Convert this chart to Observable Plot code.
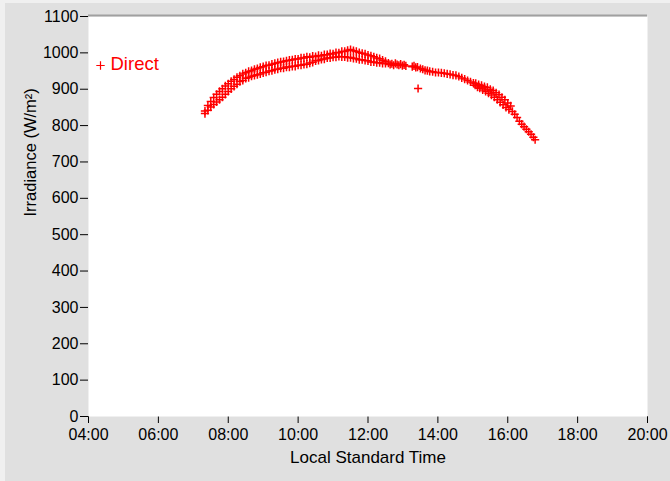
<!DOCTYPE html>
<html>
<head>
<meta charset="utf-8">
<script src="https://cdn.jsdelivr.net/npm/d3@7"></script>
<script src="https://cdn.jsdelivr.net/npm/@observablehq/plot@0.6"></script>
<style>
  html, body { margin: 0; padding: 0; background: #f0f0f0; }
  #chart svg { display: block; }
</style>
</head>
<body>
<div id="chart"></div>
<script>
// Direct irradiance readings, morning (first day)
const dayATimes = ["07:20","07:25","07:30","07:35","07:40","07:45","07:50","07:55","08:00","08:05","08:10","08:15","08:20","08:25","08:30","08:35","08:40","08:45","08:50","08:55","09:00","09:05","09:10","09:15","09:20","09:25","09:30","09:35","09:40","09:45","09:50","09:55","10:00","10:05","10:10","10:15","10:20","10:25","10:30","10:35","10:40","10:45","10:50","10:55","11:00","11:05","11:10","11:15","11:20","11:25","11:30","11:35","11:40","11:45","11:50","11:55","12:00","12:05","12:10","12:15","12:20","12:25","12:30"];
const dayAValues = [840,855,866,877,886,894,901,909,915,922,927,933,937,942,945,949,951,955,957,960,962,965,966,969,971,973,975,976,978,980,981,983,983,986,986,989,988,991,990,993,992,995,995,998,997,1001,1000,1004,1004,1007,1009,1006,1004,1001,999,997,994,992,989,986,984,980,977];

// Direct irradiance readings, morning (second day)
const dayBTimes = ["07:20","07:25","07:30","07:35","07:40","07:45","07:50","07:55","08:00","08:05","08:10","08:15","08:20","08:25","08:30","08:35","08:40","08:45","08:50","08:55","09:00","09:05","09:10","09:15","09:20","09:25","09:30","09:35","09:40","09:45","09:50","09:55","10:00","10:05","10:10","10:15","10:20","10:25","10:30","10:35","10:40","10:45","10:50","10:55","11:00","11:05","11:10","11:15","11:20","11:25","11:30","11:35","11:40","11:45","11:50","11:55","12:00","12:05","12:10","12:15","12:20","12:25","12:30"];
const dayBValues = [833,842,851,858,865,871,878,886,894,901,908,914,921,924,930,932,936,938,940,942,945,947,950,951,954,955,958,958,961,961,963,963,966,966,968,969,972,974,978,979,982,983,986,986,988,988,990,989,989,987,987,985,984,981,981,979,978,975,975,973,973,971,971];

// Afternoon readings
const pmTimes = ["12:35","12:38","12:41","12:44","12:47","12:50","12:53","12:56","12:59","13:02","13:05","13:16","13:19","13:22","13:25","13:26","13:30","13:34","13:38","13:42","13:46","13:51","13:56","14:01","14:06","14:11","14:16","14:21","14:26","14:31","14:36","14:41","14:46","14:51","14:56","15:01","15:05","15:10","15:15","15:20","15:25","15:30","15:35","15:40","15:45","15:50","15:55","16:00","16:05","15:04","15:08","15:12","15:17","15:22","15:27","15:32","15:37","15:42","15:47","15:52","15:57","16:02","16:08","16:12","16:16","16:20","16:24","16:28","16:32","16:36","16:40","16:44","16:47"];
const pmValues = [972,968,970,966,971,968,966,969,965,967,964,962,964,960,961,902,957,955,952,951,949,948,946,946,945,944,942,941,939,938,935,931,928,924,920,917,916,913,911,907,905,900,896,890,885,878,871,862,854,911,906,903,898,894,889,884,878,871,864,857,850,844,839,831,822,812,804,797,790,783,776,768,761];

const xTicks = [4, 6, 8, 10, 12, 14, 16, 18, 20];
const yTicks = [0, 100, 200, 300, 400, 500, 600, 700, 800, 900, 1000, 1100];
const seriesName = "Direct";

const toHours = s => { const [h, m] = s.split(":").map(Number); return h + m / 60; };
const rows = (times, values) => times.map((t, i) => ({hour: toHours(t), irradiance: values[i]}));
const readings = [...rows(dayATimes, dayAValues), ...rows(dayBTimes, dayBValues), ...rows(pmTimes, pmValues)];

// Thin stroked cross used as the point marker
const cross = {
  draw(ctx, size) {
    const r = Math.sqrt(size / Math.PI);
    ctx.moveTo(-r, 0); ctx.lineTo(r, 0);
    ctx.moveTo(0, -r); ctx.lineTo(0, r);
  }
};

const chart = Plot.plot({
  width: 670,
  height: 481,
  marginLeft: 88,
  marginRight: 23,
  marginTop: 16,
  marginBottom: 65,
  style: {
    background: "linear-gradient(#e0e0e0, #e0e0e0) 5px 3px / 100% 100% no-repeat, #f0f0f0",
    color: "black",
    fontFamily: "'Liberation Sans', Arial, sans-serif",
    fontSize: "16px"
  },
  x: {
    domain: [4, 20],
    ticks: xTicks,
    tickFormat: h => String(h).padStart(2, "0") + ":00",
    tickSize: 7,
    tickPadding: 5,
    label: null
  },
  y: {
    domain: [0, 1100],
    ticks: yTicks,
    tickFormat: d => String(d),
    tickSize: 8,
    tickPadding: 2,
    label: null
  },
  marks: [
    Plot.frame({fill: "white", stroke: "none"}),
    Plot.ruleY([1100], {stroke: "#a0a0a0", strokeWidth: 2, dy: -1}),
    Plot.dot(readings, {x: "hour", y: "irradiance", symbol: cross, r: 4.1, stroke: "#ff0000", fill: "none", strokeWidth: 1.5}),
    Plot.dot([seriesName], {frameAnchor: "top-left", dx: 12, dy: 49, symbol: cross, r: 4.2, stroke: "#ff0000", fill: "none", strokeWidth: 1.2}),
    Plot.text([seriesName], {frameAnchor: "top-left", text: d => d, textAnchor: "start", lineAnchor: "middle", dx: 22, dy: 47.5, fill: "#ff0000", fontSize: 18.5}),
    Plot.text(["Local Standard Time"], {frameAnchor: "bottom", text: d => d, lineAnchor: "middle", dy: 41, fontSize: 17}),
    Plot.text(["Irradiance (W/m²)"], {frameAnchor: "left", text: d => d, rotate: -90, lineAnchor: "middle", dx: -58, fontSize: 16.5})
  ]
});

document.getElementById("chart").appendChild(chart);
</script>
</body>
</html>
